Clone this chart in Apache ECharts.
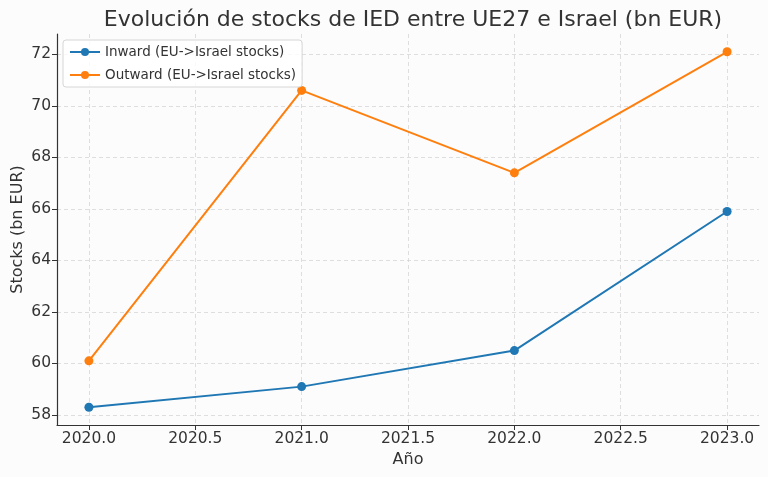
<!DOCTYPE html>
<html>
<head>
<meta charset="utf-8">
<script src="https://cdn.jsdelivr.net/npm/echarts@6/dist/echarts.min.js"></script>
<style>
  html, body { margin: 0; padding: 0; background: #fcfcfc; }
  #main { width: 768px; height: 477px; }
</style>
</head>
<body>
<div id="main"></div>
<script>
// datos
var years = [2020, 2021, 2022, 2023];
var inward = [58.3, 59.1, 60.5, 65.9];
var outward = [60.1, 70.6, 67.4, 72.1];
var xTicks = [2020, 2020.5, 2021, 2021.5, 2022, 2022.5, 2023];
var yTicks = [58, 60, 62, 64, 66, 68, 70, 72];

var fontFam = '"DejaVu Sans", sans-serif';

function pairs(xs, ys) {
  return xs.map(function (x, i) { return [x, ys[i]]; });
}

var chart = echarts.init(document.getElementById('main'));
chart.setOption({
  backgroundColor: '#fcfcfc',
  animation: false,
  title: {
    text: 'Evolución de stocks de IED entre UE27 e Israel (bn EUR)',
    left: 408, top: 4, textAlign: 'center',
    textStyle: { fontFamily: fontFam, fontSize: 22, fontWeight: 'normal', color: '#333' }
  },
  legend: {
    left: 63, top: 40, orient: 'vertical',
    itemWidth: 30, itemHeight: 10, itemGap: 9,
    padding: [5, 6],
    backgroundColor: 'rgba(255,255,255,0.8)',
    borderColor: '#d6d6d6', borderWidth: 1, borderRadius: 3,
    textStyle: { fontFamily: fontFam, fontSize: 13.5, color: '#333' },
    data: ['Inward (EU->Israel stocks)', 'Outward (EU->Israel stocks)']
  },
  grid: { left: 57, right: 9, top: 34, bottom: 52, outerBoundsMode: 'none' },
  xAxis: {
    type: 'value', min: 2019.85, max: 2023.15,
    name: 'Año', nameLocation: 'middle', nameGap: 27,
    nameTextStyle: { fontFamily: fontFam, fontSize: 16, color: '#333' },
    axisLine: { lineStyle: { color: '#333', width: 1.2 } },
    axisTick: { show: true, length: 5, customValues: xTicks, lineStyle: { color: '#333' } },
    axisLabel: {
      customValues: xTicks, margin: 6,
      fontFamily: fontFam, fontSize: 15.5, color: '#333',
      formatter: function (v) { return v.toFixed(1); }
    },
    splitLine: { show: true, lineStyle: { color: '#d6d6d6', type: [4, 3], width: 0.8 } }
  },
  yAxis: {
    type: 'value', min: 57.61, max: 72.79,
    name: 'Stocks (bn EUR)', nameLocation: 'middle', nameGap: 31, nameRotate: 90,
    nameMoveOverlap: false,
    nameTextStyle: { fontFamily: fontFam, fontSize: 16, color: '#333' },
    axisLine: { show: true, lineStyle: { color: '#333', width: 1.2 } },
    axisTick: { show: true, length: 5, customValues: yTicks, lineStyle: { color: '#333' } },
    axisLabel: {
      customValues: yTicks, margin: 6,
      fontFamily: fontFam, fontSize: 15.5, color: '#333'
    },
    splitLine: { show: true, lineStyle: { color: '#d6d6d6', type: [4, 3], width: 0.8 } }
  },
  series: [
    {
      name: 'Inward (EU->Israel stocks)', type: 'line',
      data: pairs(years, inward),
      symbol: 'circle', symbolSize: 9,
      lineStyle: { color: '#1f77b4', width: 2 },
      itemStyle: { color: '#1f77b4' }
    },
    {
      name: 'Outward (EU->Israel stocks)', type: 'line',
      data: pairs(years, outward),
      symbol: 'circle', symbolSize: 9,
      lineStyle: { color: '#ff7f0e', width: 2 },
      itemStyle: { color: '#ff7f0e' }
    }
  ]
});
</script>
</body>
</html>
